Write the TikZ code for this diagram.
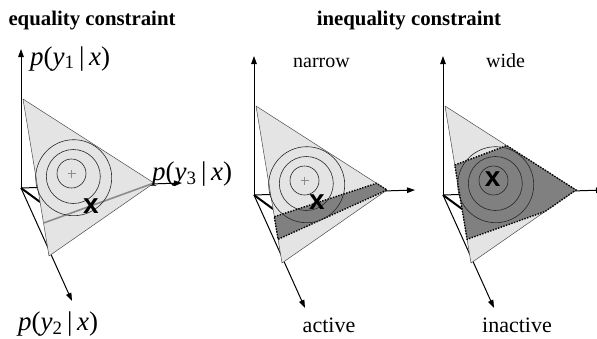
\documentclass[tikz,border=0pt]{standalone}
\usepackage{fontspec}
\setmainfont{Liberation Serif}
\setsansfont{Liberation Sans}
\usepackage{xcolor}
\usepackage{tikz}
\usetikzlibrary{arrows.meta,calc}
\definecolor{lightface}{HTML}{E4E4E4}
\definecolor{darkface}{HTML}{808080}
\definecolor{markgray}{HTML}{8C8C8C}

\begin{document}
\begin{tikzpicture}[x=1pt,y=-1pt,
axis/.style={line width=1pt,-{Triangle[length=8pt,width=5.5pt]}},
normal/.style={line width=2pt},
simplex/.style={fill=lightface,draw=black!70,line width=0.5pt,line join=round},
band/.style={fill=darkface,draw=black,dash pattern=on 1.4pt off 1.4pt,line width=1.4pt},
ring/.style={draw=black!85,line width=0.6pt},
eqline/.style={draw=markgray,line width=1.6pt},
plusmark/.style={draw=markgray,line width=0.7pt},
opt/.style={font=\sffamily\bfseries\fontsize{28}{28}\selectfont,inner sep=0pt},
title/.style={font=\bfseries\fontsize{20.8}{22}\selectfont,inner sep=0pt,anchor=base},
tag/.style={font=\fontsize{20}{22}\selectfont,inner sep=0pt,anchor=base},
prob/.style={font=\fontsize{27}{28}\selectfont,inner sep=0pt,anchor=base west}
]
\useasboundingbox (0,0) rectangle (597,338);

% axes and simplex, same in all three panels
\foreach \p/\dx/\dy in {1/0/0,2/233/7,3/422/7}{
\begin{scope}[shift={(\dx,\dy)}]
\coordinate (o\p) at (21,188);
\coordinate (a1\p) at (21,49);
\coordinate (a2\p) at (72,301);
\coordinate (a3\p) at (182,183);
\coordinate (t\p) at (23,99);
\coordinate (r\p) at (154,183);
\coordinate (b\p) at (49,256);
\draw[axis] (o\p) -- (a1\p);
\draw[axis] (o\p) -- (a2\p);
\draw[axis] (o\p) -- (a3\p);
\draw[normal] (o\p) -- ($(t\p)!0.656!(b\p)$);
\draw[simplex] (t\p) -- (r\p) -- (b\p) -- cycle;
\end{scope}
}

% feasible regions
\draw[eqline] ($(t1)!0.79!(b1)$) -- (r1);
\draw[band] ($(t2)!0.705!(b2)$) -- ($(t2)!0.92!(r2)$) -- (r2) -- ($(t2)!0.849!(b2)$) -- cycle;
\draw[band] ($(t3)!0.376!(b3)$) -- ($(t3)!0.471!(r3)$) -- (r3) -- ($(r3)!0.295!(b3)$) -- ($(t3)!0.849!(b3)$) -- cycle;

% level sets of the objective
\foreach \p/\dx/\dy in {1/0/0,2/233/7,3/422/7}{
\begin{scope}[shift={(\dx,\dy)}]
\coordinate (c\p) at (71.5,173.5);
\draw[ring] (c\p) circle (14.5);
\draw[ring] (73.3,176.5) circle (27);
\draw[ring] (73.7,177.7) circle (38);
\end{scope}
}
\draw[plusmark] ($(c1)+(-4,0)$) -- ($(c1)+(4,0)$) ($(c1)+(0,-4)$) -- ($(c1)+(0,4)$);
\draw[plusmark] ($(c2)+(-4,0)$) -- ($(c2)+(4,0)$) ($(c2)+(0,-4)$) -- ($(c2)+(0,4)$);

% optimum
\node[opt] (x1) at (91,206) {x};
\node[opt] (x2) at (317,202) {x};
\node[opt] (x3) at (492.7,179.3) {x};

% texts
\node[title] (eqtitle) at (92,25.5) {equality constraint};
\node[title] (ineqtitle) at (409,25.5) {inequality constraint};
\node[tag] (narrow) at (321.5,67.5) {narrow};
\node[tag] (wide) at (505.5,67.5) {wide};
\node[tag,font=\fontsize{22}{24}\selectfont] (active) at (329,332.5) {active};
\node[tag,font=\fontsize{22}{24}\selectfont] (inactive) at (517,332.5) {inactive};
\node[prob] (py1) at (30,65) {\textit{p}(\textit{y}\textsubscript{1}\,|\,\textit{x})};
\node[prob] (py3) at (152,180.5) {\textit{p}(\textit{y}\textsubscript{3}\,|\,\textit{x})};
\node[prob] (py2) at (18,330.5) {\textit{p}(\textit{y}\textsubscript{2}\,|\,\textit{x})};
\end{tikzpicture}
\end{document}
